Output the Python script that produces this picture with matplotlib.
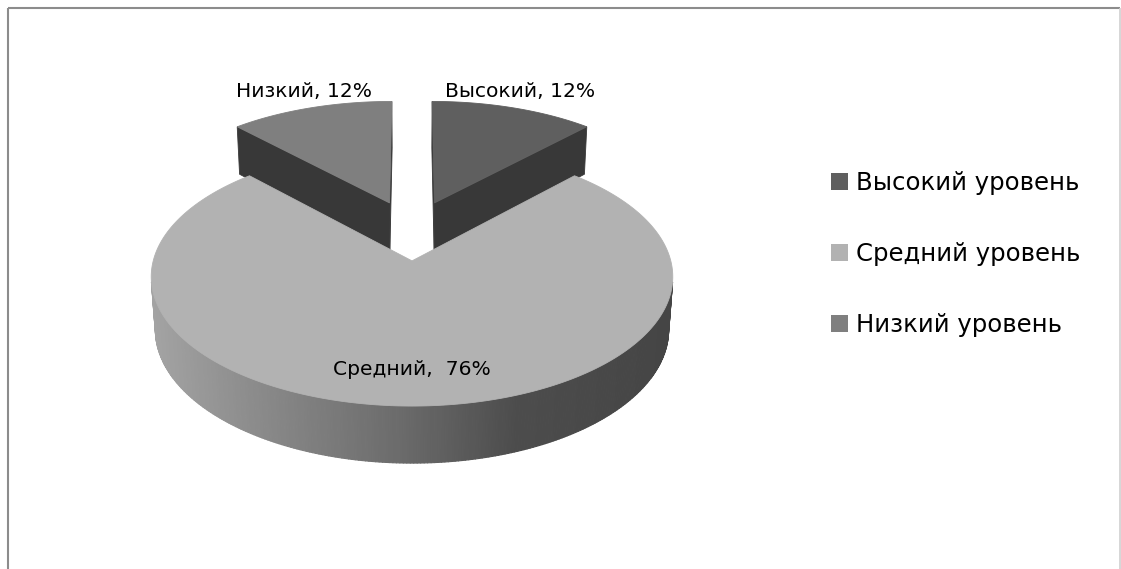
import numpy as np
import matplotlib
matplotlib.use("Agg")
import matplotlib.pyplot as plt
from matplotlib.patches import Polygon, Rectangle
from matplotlib.collections import PolyCollection

# ---- data -------------------------------------------------------------
categories = ["Высокий", "Средний", "Низкий"]
legend_labels = ["Высокий уровень", "Средний уровень", "Низкий уровень"]
shares = [12, 76, 12]
label_gaps = [" ", "  ", " "]
top_colors = ["#5f5f5f", "#b2b2b2", "#7f7f7f"]

# ---- 3-D pie camera ---------------------------------------------------
TILT = np.arcsin(0.477)      # elevation of the viewer
DIST = 7.33                  # camera distance in pie radii
FOCAL = 1840.0               # projection scale, px
CX, CY = 412.0, 230.0        # screen position of the pie axis
THICK = 0.236                # pie thickness in radii
EXPLODE = 0.25               # radial explosion of every slice
CAM = np.array([0.0, -DIST * np.cos(TILT), DIST * np.sin(TILT)])

RIM_X = [153, 250, 400, 517, 672]
RIM_SHADE = [0.64, 0.55, 0.42, 0.30, 0.27]
CUT_COLOR = "#383838"
FONT = ["DejaVu Sans"]


def proj(X, Y, Z):
    depth = DIST + Y * np.cos(TILT) - Z * np.sin(TILT)
    sy = Y * np.sin(TILT) + Z * np.cos(TILT)
    return CX + FOCAL * X / depth, CY - FOCAL * sy / depth


def visible(normal, point):
    return np.dot(normal, CAM - point) > 0


fig = plt.figure(figsize=(11.21, 5.69), dpi=100)
ax = fig.add_axes([0, 0, 1, 1])
ax.set_xlim(0, 1121)
ax.set_ylim(569, 0)
ax.axis("off")

# slice geometry: start at 12 o'clock, go clockwise
total = float(sum(shares))
slices = []
start = 90.0
for i, v in enumerate(shares):
    span = v / total * 360.0
    hi, lo = start, start - span
    start = lo
    mid = np.radians((hi + lo) / 2)
    slices.append(dict(i=i, lo=np.radians(lo), hi=np.radians(hi), mid=mid,
                       ox=EXPLODE * np.cos(mid), oy=EXPLODE * np.sin(mid)))

# paint from the back of the scene to the front
for s in sorted(slices, key=lambda d: -d["oy"]):
    ox, oy = s["ox"], s["oy"]
    th = np.linspace(s["lo"], s["hi"], 400)
    xs, ys = ox + np.cos(th), oy + np.sin(th)

    # outer rim
    quads, shades = [], []
    for a, b in zip(range(len(th) - 1), range(1, len(th))):
        phi = (th[a] + th[b]) / 2
        n = np.array([np.cos(phi), np.sin(phi), 0.0])
        p = np.array([ox + np.cos(phi), oy + np.sin(phi), -THICK / 2])
        if not visible(n, p):
            continue
        t0 = proj(xs[a], ys[a], 0.0)
        t1 = proj(xs[b], ys[b], 0.0)
        b1 = proj(xs[b], ys[b], -THICK)
        b0 = proj(xs[a], ys[a], -THICK)
        quads.append([t0, t1, b1, b0])
        g = float(np.interp((t0[0] + t1[0]) / 2, RIM_X, RIM_SHADE))
        shades.append((g, g, g))
    if quads:
        ax.add_collection(PolyCollection(quads, facecolors=shades,
                                         edgecolors=shades, linewidths=0.8))

    # radial cut faces
    for ang, sign in ((s["hi"], 1), (s["lo"], -1)):
        n = sign * np.array([-np.sin(ang), np.cos(ang), 0.0])
        p = np.array([ox, oy, -THICK / 2])
        if not visible(n, p):
            continue
        rx, ry = ox + np.cos(ang), oy + np.sin(ang)
        face = [proj(ox, oy, 0.0), proj(rx, ry, 0.0),
                proj(rx, ry, -THICK), proj(ox, oy, -THICK)]
        ax.add_patch(Polygon(face, closed=True, facecolor=CUT_COLOR,
                             edgecolor=CUT_COLOR, linewidth=0.6))

    # top face
    top = [proj(ox, oy, 0.0)] + [proj(x, y, 0.0) for x, y in zip(xs, ys)]
    ax.add_patch(Polygon(top, closed=True, facecolor=top_colors[s["i"]],
                         edgecolor=top_colors[s["i"]], linewidth=0.6))

# data labels
for s in slices:
    i = s["i"]
    text = f"{categories[i]},{label_gaps[i]}{shares[i]}%"
    r = 0.81 if shares[i] > 50 else 1.10
    X = s["ox"] + r * np.cos(s["mid"])
    Y = s["oy"] + r * np.sin(s["mid"])
    lx, ly = proj(X, Y, 0.0)
    ax.text(lx, ly + (0 if shares[i] > 50 else -2), text, ha="center",
            va="baseline", fontsize=14.6, family=FONT, color="#000000")

# legend
for k, (lab, col) in enumerate(zip(legend_labels, top_colors)):
    yc = 181 + 71 * k
    ax.add_patch(Rectangle((830.5, yc - 8.5), 17, 17, facecolor=col,
                           edgecolor="none"))
    ax.text(856, yc + 9, lab, ha="left", va="baseline", fontsize=17.6,
            family=FONT, color="#000000")

# chart frame
ax.plot([7.5, 7.5], [569, 7.5], color="#8c8c8c", lw=1.5, solid_capstyle="butt")
ax.plot([7.5, 1119.5], [7.5, 7.5], color="#8c8c8c", lw=1.5, solid_capstyle="butt")
ax.plot([1119.5, 1119.5], [7.5, 569], color="#cfcfcf", lw=1.2, solid_capstyle="butt")

fig.savefig("out.png", dpi=100)
